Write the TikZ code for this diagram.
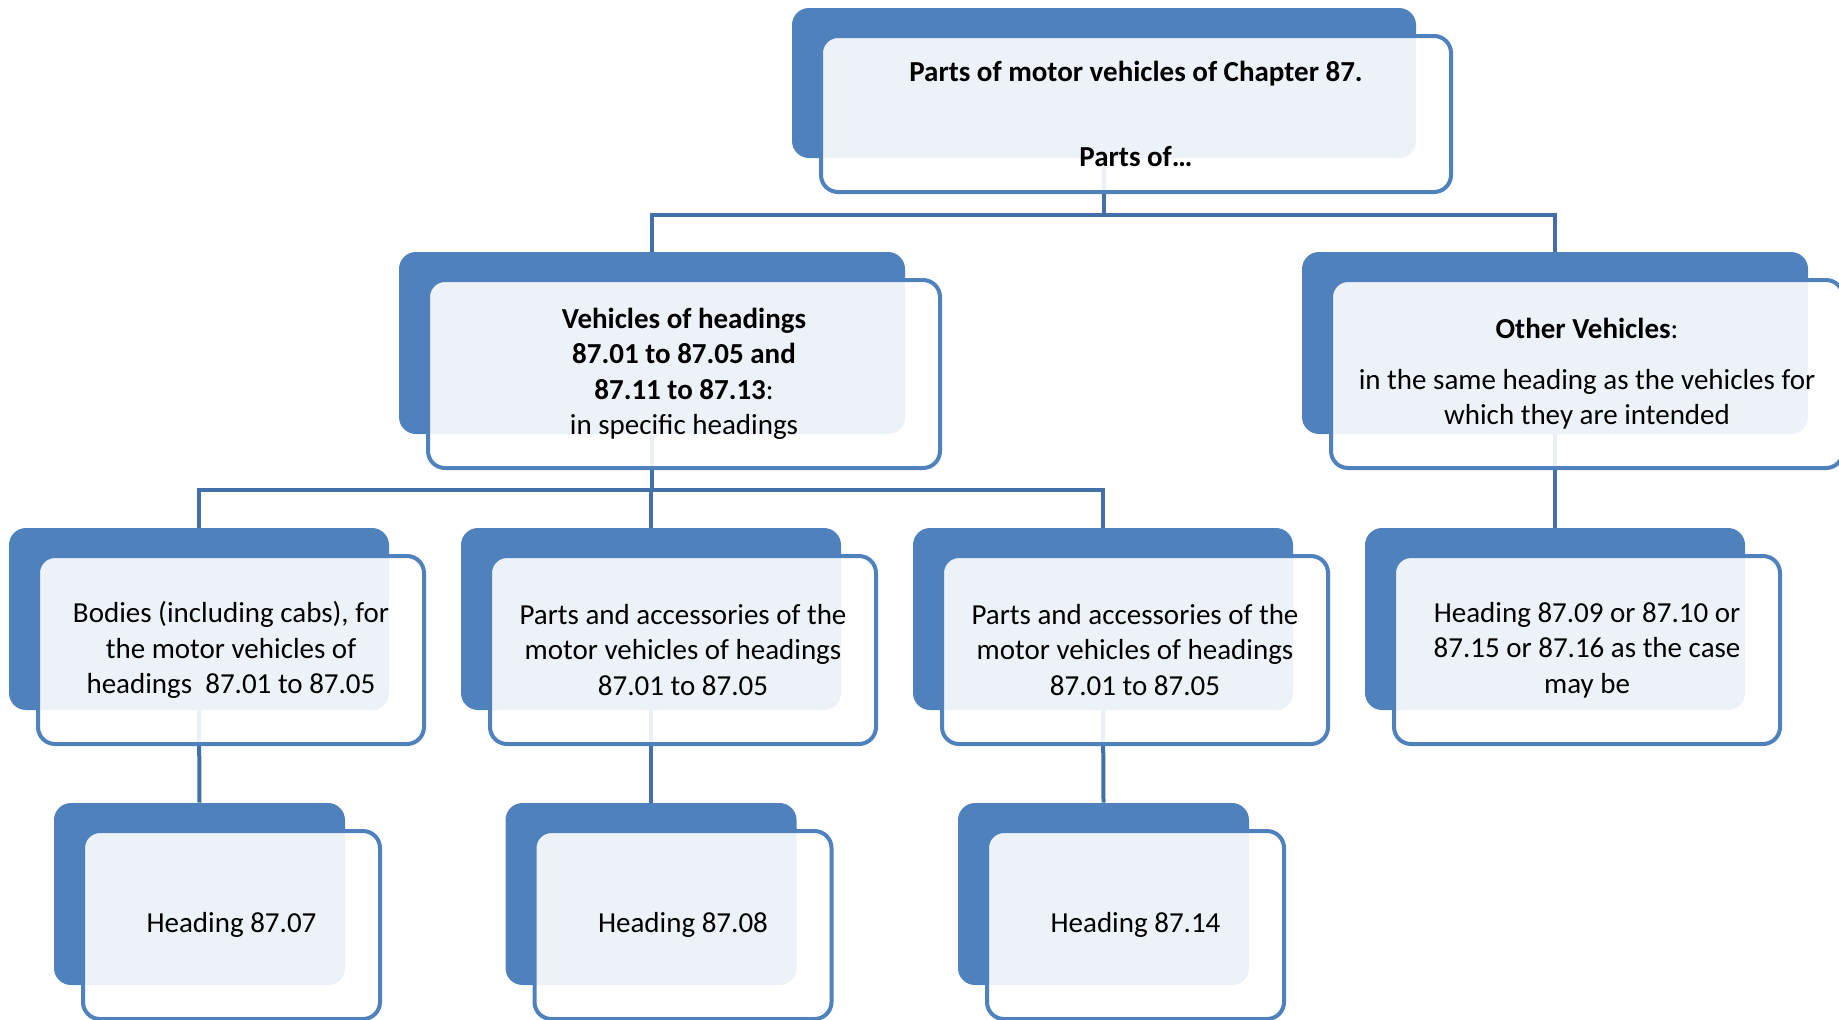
\documentclass[tikz,border=0pt]{standalone}
\usepackage{fontspec}
\setmainfont{Carlito}
\definecolor{boxblue}{RGB}{79,129,189}
\definecolor{linkblue}{RGB}{68,112,170}
\tikzset{
  back/.style 2 args={fill=boxblue, rounded corners=8.5pt, inner sep=0pt,
    minimum width=#1, minimum height=#2},
  front/.style 2 args={draw=boxblue, line width=2pt, fill=white, fill opacity=0.9,
    text opacity=1, rounded corners=8.5pt, inner sep=0pt, align=center,
    minimum width=#1, minimum height=#2,
    font=\fontsize{14.5pt}{17.75pt}\selectfont},
  conn/.style={draw=linkblue, line width=2pt},
}
\begin{document}
\begin{tikzpicture}[x=0.5pt, y=-0.5pt]
  \useasboundingbox (0,0) rectangle (1839,1019);
  % back panels
  \node[back={312pt}{75pt}] (top) at (1104,83) {};
  \node[back={253pt}{91pt}] (spec) at (652,343) {};
  \node[back={253pt}{91pt}] (other) at (1555,343) {};
  \node[back={190pt}{91pt}] (bodies) at (199,619) {};
  \node[back={190pt}{91pt}] (accA) at (651,619) {};
  \node[back={190pt}{91pt}] (accB) at (1103,619) {};
  \node[back={190pt}{91pt}] (same) at (1555,619) {};
  \node[back={145.5pt}{91pt}] (h0707) at (199.5,894) {};
  \node[back={145.5pt}{91pt}] (h0708) at (651,894) {};
  \node[back={145.5pt}{91pt}] (h0714) at (1103.5,894) {};
  % connectors
  \draw[conn] (top.south) -- ++(0,57) -| (spec.north);
  \draw[conn] (top.south) -- ++(0,57) -| (other.north);
  \draw[conn] (spec.south) -- ++(0,56) -| (bodies.north);
  \draw[conn] (spec.south) -- ++(0,56) -| (accA.north);
  \draw[conn] (spec.south) -- ++(0,56) -| (accB.north);
  \draw[conn] (other.south) -- (same.north);
  \draw[conn] (bodies.south) -- (h0707.north);
  \draw[conn] (accA.south) -- (h0708.north);
  \draw[conn] (accB.south) -- (h0714.north);
  % front panels with text
  \node[front={315pt}{78pt}] (topF) at ([shift={(32,31)}]top.center)
    {\textbf{Parts of motor vehicles of Chapter 87.}\\[24.75pt]\textbf{Parts of…}};
  \node[front={256pt}{94pt}] (specF) at ([shift={(32,31)}]spec.center)
    {\textbf{Vehicles of headings}\\\textbf{87.01 to 87.05 and}\\\textbf{87.11 to 87.13}:\\in specific headings};
  \node[front={256pt}{94pt}] (otherF) at ([shift={(32,31)}]other.center)
    {\textbf{Other Vehicles}:\\[7.5pt]in the same heading as the vehicles for\\which they are intended};
  \node[front={193pt}{94pt}] (bodiesF) at ([shift={(32,31)}]bodies.center)
    {Bodies (including cabs), for\\the motor vehicles of\\headings\ \ 87.01 to 87.05};
  \node[front={193pt}{94pt}] (accAF) at ([shift={(32,31)}]accA.center)
    {Parts and accessories of the\\motor vehicles of headings\\87.01 to 87.05};
  \node[front={193pt}{94pt}] (accBF) at ([shift={(32,31)}]accB.center)
    {Parts and accessories of the\\motor vehicles of headings\\87.01 to 87.05};
  \node[front={193pt}{94pt}] (sameF) at ([shift={(32,31)}]same.center)
    {Heading 87.09 or 87.10 or\\87.15 or 87.16 as the case\\may be};
  \node[front={148.5pt}{94pt}] (h0707F) at ([shift={(32,31)}]h0707.center) {Heading 87.07};
  \node[front={148.5pt}{94pt}] (h0708F) at ([shift={(32,31)}]h0708.center) {Heading 87.08};
  \node[front={148.5pt}{94pt}] (h0714F) at ([shift={(32,31)}]h0714.center) {Heading 87.14};
\end{tikzpicture}
\end{document}
